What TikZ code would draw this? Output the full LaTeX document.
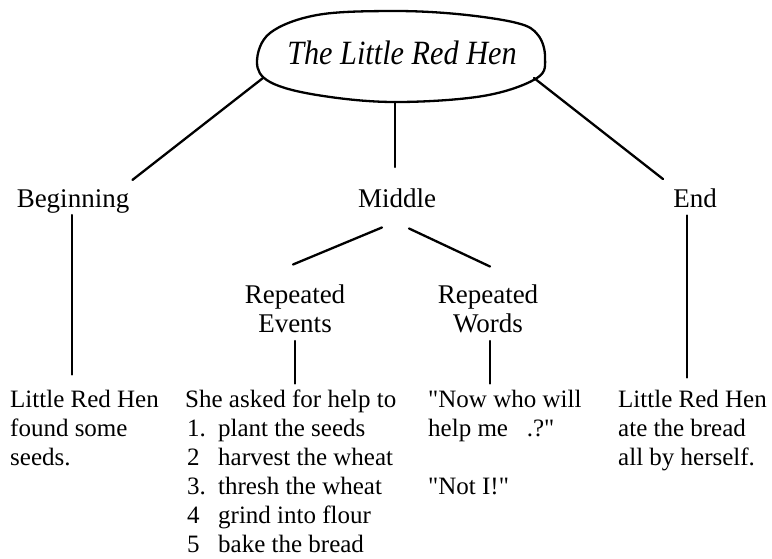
\documentclass[tikz,border=0pt]{standalone}
\usepackage{fontspec}
\setmainfont[Ligatures=TeXOff]{Liberation Serif}
\usepackage{graphicx}
\usetikzlibrary{calc}
\begin{document}
\begin{tikzpicture}[x=1pt,y=-1pt,
  conn/.style={line width=2.3pt, line cap=round},
  lbl/.style={inner sep=0pt, font=\fontsize{27}{29}\selectfont, anchor=base},
  body/.style={inner sep=0pt, font=\fontsize{25}{29}\selectfont, anchor=base west},
  titlebox/.style={line width=2.3pt, line join=round},
]
\useasboundingbox (0,0) rectangle (772,558);
% title ellipse (hand drawn look)
\draw[titlebox] plot[smooth cycle, tension=0.6] coordinates {
  (257,62) (270,33) (317,15) (390,11) (457,14) (517,23) (538,35) (545,57)
  (537,78) (483,96) (393,102) (317,95) (270,82)};
\node[inner sep=0pt, anchor=base] (title) at (402,64)
  {\fontsize{34}{40}\selectfont\scalebox{0.89}[1]{\itshape The Little Red Hen}};
\coordinate (el) at (263,78);
\coordinate (er) at (534,78);
\coordinate (eb) at (395,102);

% level 1
\node[lbl] (beg) at (73,207) {Beginning};
\node[lbl] (mid) at (397,207) {Middle};
\node[lbl] (endn) at (695,207) {End};

% level 2
\node[lbl] (rev) at (295,303) {\begin{tabular}[t]{@{}c@{}}Repeated\\Events\end{tabular}};
\node[lbl] (rw) at (488,303) {\begin{tabular}[t]{@{}c@{}}Repeated\\Words\end{tabular}};

% bottom texts
\node[body] (b1) at (10,407) {\begin{tabular}[t]{@{}l@{}}Little Red Hen\\found some\\seeds.\end{tabular}};
\node[body] (b2) at (185,407) {\begin{tabular}[t]{@{}l@{}}She asked for help to\\
  \makebox[33pt][l]{\hspace{2pt}1.}plant the seeds\\
  \makebox[33pt][l]{\hspace{2pt}2}harvest the wheat\\
  \makebox[33pt][l]{\hspace{2pt}3.}thresh the wheat\\
  \makebox[33pt][l]{\hspace{2pt}4}grind into flour\\
  \makebox[33pt][l]{\hspace{2pt}5}bake the bread\end{tabular}};
\node[body] (b3) at (428,407) {\begin{tabular}[t]{@{}l@{}}"Now who will\\help me \ \ .?"\\ \\"Not I!"\end{tabular}};
\node[body] (b4) at (618,407) {\begin{tabular}[t]{@{}l@{}}Little Red Hen\\ate the bread\\all by herself.\end{tabular}};

% connectors
\draw[conn] (el) -- ($(beg.north east)+(3,-9)$);
\draw[conn] (eb) -- ($(mid.north)+(-2,-21)$);
\draw[conn] (er) -- ($(endn.north west)+(-10,-9)$);

\draw[conn] ($(beg.south)+(-1,2)$) -- ($(beg.south |- b1.north)+(-1,-12)$);
\draw[conn] ($(endn.south)+(-8,8)$) -- ($(endn.south |- b4.north)+(-8,-9)$);

\draw[conn] ($(mid.south)+(-15,20)$) -- ($(rev.north)+(-2,-18)$);
\draw[conn] ($(mid.south)+(12,21)$) -- ($(rw.north)+(2,-16)$);

\draw[conn] ($(rev.south)+(0,0)$) -- ($(rev.south |- b2.north)+(0,-3)$);
\draw[conn] ($(rw.south)+(2,0)$) -- ($(rw.south |- b3.north)+(2,-3)$);
\end{tikzpicture}
\end{document}
